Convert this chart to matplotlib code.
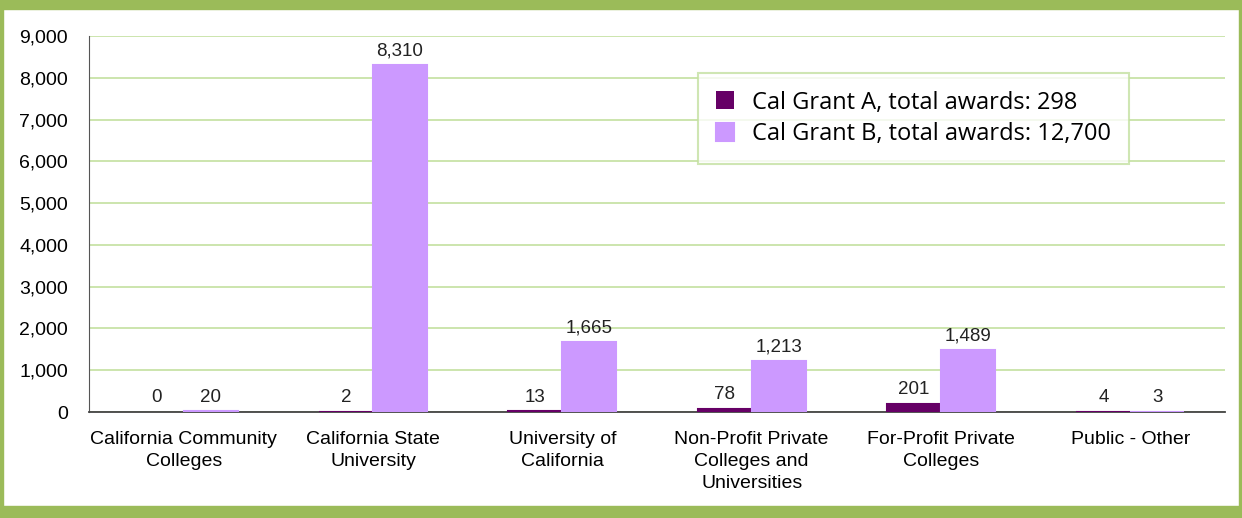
import matplotlib.pyplot as plt
import matplotlib.patches as mpatches
import numpy as np

# Data
categories = ['California Community\nColleges', 'California State\nUniversity',
              'University of\nCalifornia', 'Non-Profit Private\nColleges and\nUniversities',
              'For-Profit Private\nColleges', 'Public - Other']
grant_a = [0, 2, 13, 78, 201, 4]
grant_b = [20, 8310, 1665, 1213, 1489, 3]
label_a = 'Cal Grant A, total awards: 298'
label_b = 'Cal Grant B, total awards: 12,700'

plt.rcParams['font.family'] = ['Liberation Sans', 'DejaVu Sans']

fig = plt.figure(figsize=(12.42, 5.18), dpi=100)
ax = fig.add_axes([0.0717, 0.2046, 0.9146, 0.7259])

# green frame
green = '#9bbb59'
fig.patches.append(mpatches.Rectangle((0, 1 - 9 / 518), 1, 9 / 518, transform=fig.transFigure,
                                      color=green, zorder=0))
fig.patches.append(mpatches.Rectangle((0, 0), 1, 12 / 518, transform=fig.transFigure,
                                      color=green, zorder=0))
fig.patches.append(mpatches.Rectangle((0, 0), 3 / 1242, 1, transform=fig.transFigure,
                                      color=green, zorder=0))
fig.patches.append(mpatches.Rectangle((1 - 3 / 1242, 0), 3 / 1242, 1, transform=fig.transFigure,
                                      color=green, zorder=0))

x = np.arange(len(categories))
w = 0.285
col_a, col_b = '#660066', '#cc99ff'
bars_a = ax.bar(x - w / 2, grant_a, w, color=col_a, edgecolor=col_a,
                linewidth=[1.5 if v else 0 for v in grant_a], label=label_a, zorder=3)
bars_b = ax.bar(x + w / 2, grant_b, w, color=col_b, edgecolor=col_b,
                linewidth=[1.5 if v else 0 for v in grant_b], label=label_b, zorder=3)

for bars in (bars_a, bars_b):
    for b in bars:
        h = b.get_height()
        ax.annotate(f'{h:,.0f}', (b.get_x() + b.get_width() / 2, h), xytext=(0, 4),
                    textcoords='offset points', ha='center', va='bottom', fontsize=13.5,
                    color='#222222')

ax.set_xlim(-0.5, len(categories) - 0.5)
ax.set_ylim(0, 9000)
ax.set_yticks(np.arange(0, 9001, 1000))
ax.yaxis.set_major_formatter(plt.FuncFormatter(lambda v, p: f'{v:,.0f}'))
ax.set_xticks(x)
ax.set_xticklabels(categories, fontsize=14, linespacing=1.36)
ax.tick_params(axis='y', labelsize=14, length=0, pad=15)
ax.tick_params(axis='x', length=0, pad=14)
ax.grid(axis='y', color='#c4e0a0', linewidth=1.2, zorder=0)
for s in ('top', 'right'):
    ax.spines[s].set_visible(False)
ax.spines['left'].set_color('#555555')
ax.spines['bottom'].set_color('#444444')
ax.spines['bottom'].set_linewidth(1.3)

leg = ax.legend(loc='upper left', bbox_to_anchor=(0.5361, 0.902), prop={'family': 'Open Sans', 'size': 17},
                frameon=True, fancybox=False, handlelength=0.78, handleheight=0.78,
                borderpad=0.75, labelspacing=0.32, handletextpad=0.75, borderaxespad=0)
leg.get_frame().set_edgecolor('#c4e0a0')
leg.get_frame().set_linewidth(1.5)
leg.set_zorder(5)

fig.savefig('out.png', dpi=100)
